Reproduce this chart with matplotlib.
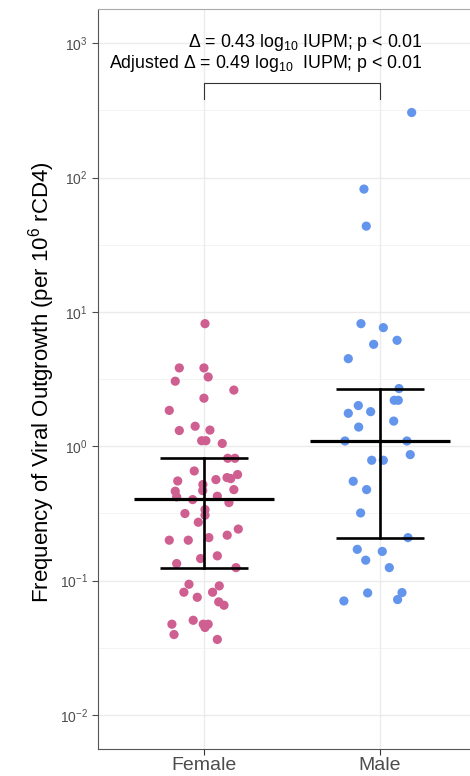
import matplotlib
matplotlib.use("Agg")
import matplotlib.pyplot as plt
import matplotlib.ticker as mticker
import numpy as np

plt.rcParams['font.family'] = ['Liberation Sans', 'DejaVu Sans']
plt.rcParams['mathtext.fontset'] = 'custom'
plt.rcParams['mathtext.rm'] = 'Liberation Sans'
plt.rcParams['mathtext.it'] = 'Liberation Sans:italic'

# ---- data ----
groups = ["Female", "Male"]

female_iupm = [8.18, 3.83, 3.83, 3.28, 3.05, 2.62, 2.28, 1.85, 1.31, 1.41,
               1.32, 1.10, 1.10, 1.05, 0.814, 0.814, 0.655, 0.552, 0.565, 0.585,
               0.575, 0.616, 0.519, 0.468, 0.463, 0.420, 0.401, 0.425, 0.476, 0.381,
               0.338, 0.316, 0.307, 0.272, 0.242, 0.200, 0.200, 0.209, 0.218, 0.146,
               0.153, 0.134, 0.125, 0.094, 0.0914, 0.082, 0.082, 0.0752, 0.0695, 0.0656,
               0.0507, 0.0474, 0.0474, 0.0448, 0.0474, 0.0397, 0.0365]
female_jitter = [0.006, -0.14, 0.0, 0.024, -0.163, 0.17, 0.0, -0.197, -0.14, -0.05,
                 0.034, -0.013, 0.011, 0.104, 0.135, 0.176, -0.055, -0.149, 0.068, 0.131,
                 0.152, 0.191, -0.006, -0.007, -0.163, -0.155, -0.064, 0.076, 0.17, 0.142,
                 0.006, -0.108, 0.006, -0.032, 0.195, -0.197, -0.089, 0.028, 0.132, -0.019,
                 0.076, -0.155, 0.182, -0.085, 0.087, -0.114, 0.049, -0.038, 0.084, 0.114,
                 -0.061, -0.004, 0.024, 0.006, -0.182, -0.170, 0.076]

male_iupm = [305, 82.1, 43.5, 8.18, 7.64, 5.74, 6.15, 4.49, 2.69, 2.20,
             2.20, 2.01, 1.76, 1.81, 1.54, 1.39, 1.095, 1.095, 0.867, 0.787,
             0.787, 0.549, 0.476, 0.319, 0.209, 0.171, 0.165, 0.142, 0.125, 0.081,
             0.0815, 0.0723, 0.0706]
male_jitter = [0.18, -0.091, -0.078, -0.108, 0.019, -0.036, 0.097, -0.18, 0.108, 0.081,
               0.104, -0.123, -0.18, -0.053, 0.078, -0.121, -0.199, 0.153, 0.172, -0.047,
               0.019, -0.152, -0.076, -0.110, 0.159, -0.129, 0.013, -0.081, 0.053, -0.07,
               0.125, 0.1, -0.205]

# geometric mean and interval shown as crossbar / error bar
center_vals = [0.405, 1.095]
lower_vals = [0.125, 0.209]
upper_vals = [0.818, 2.69]

line1 = r"$\Delta$ = 0.43 log$_{10}$ IUPM; p < 0.01"
line2 = r"Adjusted $\Delta$ = 0.49 log$_{10}$  IUPM; p < 0.01"

colors = ["#CF5F91", "#6495ED"]

# ---- figure ----
fig = plt.figure(figsize=(4.70, 7.76), dpi=100)
ax = fig.add_axes([0.2092, 0.0348, 0.824, 0.954])

ax.set_yscale('log')
ax.set_xlim(0.4, 2.6)
ax.set_ylim(10 ** -2.253, 10 ** 3.257)

# grid
for e in range(-2, 4):
    ax.axhline(10.0 ** e, color='#EBEBEB', lw=1.0, zorder=0)
for e in np.arange(-1.5, 3.5, 1.0):
    ax.axhline(10.0 ** e, color='#F2F2F2', lw=0.6, zorder=0)
for xpos in [1, 2]:
    ax.axvline(xpos, color='#EBEBEB', lw=1.0, zorder=0)

# points
for i, (vals, jit) in enumerate([(female_iupm, female_jitter), (male_iupm, male_jitter)]):
    xs = (i + 1) + np.array(jit)
    ax.scatter(xs, vals, s=44, color=colors[i], edgecolors='none', zorder=2)

# summary bars
for i in range(2):
    xc = i + 1
    ax.plot([xc - 0.4, xc + 0.4], [center_vals[i]] * 2, color='black', lw=2.3,
            solid_capstyle='butt', zorder=3)
    ax.plot([xc, xc], [lower_vals[i], upper_vals[i]], color='black', lw=1.9, zorder=3)
    for yv in [lower_vals[i], upper_vals[i]]:
        ax.plot([xc - 0.25, xc + 0.25], [yv, yv], color='black', lw=1.9,
                solid_capstyle='butt', zorder=3)

# significance bracket
ax.plot([1, 1, 2, 2], [386, 508, 508, 386], color='#333333', lw=0.8, zorder=3)
ax.text(2.244, 1019, line1, ha='right', va='center', fontsize=12.8)
ax.text(2.244, 704, line2, ha='right', va='center', fontsize=12.8)

# axes styling
ax.set_xticks([1, 2])
ax.set_xticklabels(groups, fontsize=14, color='#4D4D4D')
ax.yaxis.set_major_locator(mticker.LogLocator(base=10, numticks=10))
ax.yaxis.set_minor_locator(mticker.NullLocator())
ax.yaxis.set_major_formatter(mticker.LogFormatterSciNotation())
ax.tick_params(axis='y', labelsize=10, colors='#4D4D4D', length=4, width=0.8)
ax.tick_params(axis='x', colors='#333333', length=4, width=0.8, labelcolor='#4D4D4D',
               pad=1.5)
for sp in ax.spines.values():
    sp.set_color('#555555')
    sp.set_linewidth(0.8)
ax.spines['top'].set_color('#AAAAAA')

ax.set_ylabel(r"Frequency of Viral Outgrowth (per 10$^{6}$ rCD4)", fontsize=16)
ax.yaxis.set_label_coords(-0.107, 0.4956)

fig.savefig("out.png", dpi=100)
